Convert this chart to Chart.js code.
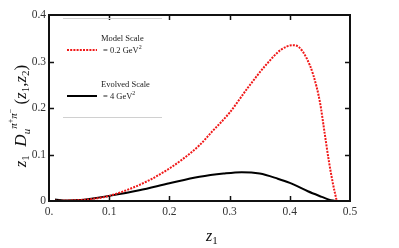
<!DOCTYPE html>
<html>
<head>
<meta charset="utf-8">
<script src="https://cdn.jsdelivr.net/npm/chart.js@4"></script>
<style>
  html, body { margin: 0; padding: 0; background: #fff; }
  #wrap { width: 399px; height: 248px; }
</style>
</head>
<body>
<div id="wrap"><canvas id="fragChart" width="399" height="248"></canvas></div>
<script>
// Values
const modelZ = [0.01, 0.03, 0.05, 0.07, 0.1, 0.14, 0.17, 0.2, 0.22, 0.25, 0.27, 0.3, 0.33, 0.36, 0.385, 0.405, 0.415, 0.428, 0.439, 0.45, 0.458, 0.465, 0.472, 0.478];
const modelD = [0.0005, 0.001, 0.002, 0.004, 0.011, 0.029, 0.047, 0.07, 0.088, 0.12, 0.148, 0.19, 0.243, 0.292, 0.325, 0.335, 0.331, 0.307, 0.271, 0.213, 0.145, 0.085, 0.035, 0];
const evolvedZ = [0.01, 0.03, 0.05, 0.07, 0.1, 0.15, 0.2, 0.25, 0.29, 0.32, 0.35, 0.38, 0.4, 0.43, 0.453, 0.465, 0.475];
const evolvedD = [0.003, 0.001, 0.002, 0.005, 0.011, 0.023, 0.038, 0.052, 0.059, 0.062, 0.059, 0.048, 0.039, 0.021, 0.009, 0.003, 0];
const xTicks = [0, 0.1, 0.2, 0.3, 0.4, 0.5];
const yTicks = [0, 0.1, 0.2, 0.3, 0.4];
const legendLabels = [['Model Scale', '= 0.2 GeV', '2'], ['Evolved Scale', '= 4 GeV', '2']];

const toPoints = (xs, ys) => xs.map((x, i) => ({ x: x, y: ys[i] }));
const serif = '"Liberation Serif", "DejaVu Serif", serif';

// draw text pieces one after another (normal / sub / sup)
function drawPieces(ctx, pieces, x, y) {
    let cx = x;
    pieces.forEach(p => {
        ctx.font = p.font;
        ctx.fillText(p.t, cx, y + (p.dy || 0));
        cx += ctx.measureText(p.t).width;
    });
    return cx;
}
function piecesWidth(ctx, pieces) {
    let w = 0;
    pieces.forEach(p => { ctx.font = p.font; w += ctx.measureText(p.t).width; });
    return w;
}

// frame, inward ticks, legend and axis titles
const decorPlugin = {
    id: 'decor',
    afterDraw(chart) {
        const ctx = chart.ctx;
        const a = chart.chartArea;
        const xs = chart.scales.x, ys = chart.scales.y;
        ctx.save();
        ctx.strokeStyle = '#111';
        ctx.lineWidth = 2;
        ctx.strokeRect(a.left, a.top, a.right - a.left, a.bottom - a.top);
        ctx.lineWidth = 1.5;
        ctx.beginPath();
        xTicks.slice(1, -1).forEach(v => {
            const px = Math.round(xs.getPixelForValue(v)) + 0.5;
            ctx.moveTo(px, a.bottom); ctx.lineTo(px, a.bottom - 5);
            ctx.moveTo(px, a.top); ctx.lineTo(px, a.top + 5);
        });
        yTicks.slice(1, -1).forEach(v => {
            const py = Math.round(ys.getPixelForValue(v)) + 0.5;
            ctx.moveTo(a.left, py); ctx.lineTo(a.left + 5, py);
            ctx.moveTo(a.right, py); ctx.lineTo(a.right - 5, py);
        });
        ctx.stroke();

        // legend box lines
        ctx.strokeStyle = '#d0d0d0';
        ctx.lineWidth = 1;
        ctx.beginPath();
        ctx.moveTo(a.left + 14, a.top + 3.5); ctx.lineTo(a.left + 113, a.top + 3.5);
        ctx.moveTo(a.left + 14, a.top + 102.5); ctx.lineTo(a.left + 113, a.top + 102.5);
        ctx.stroke();

        // legend samples
        const styles = chart.data.datasets;
        [a.top + 35, a.top + 81].forEach((ly, i) => {
            ctx.strokeStyle = styles[i].borderColor;
            ctx.lineWidth = 2;
            ctx.setLineDash(styles[i].borderDash || []);
            ctx.beginPath();
            ctx.moveTo(a.left + 18, ly); ctx.lineTo(a.left + 48, ly);
            ctx.stroke();
            ctx.setLineDash([]);
            ctx.fillStyle = '#222';
            ctx.textBaseline = 'alphabetic';
            ctx.font = '8.5px ' + serif;
            ctx.fillText(legendLabels[i][0], a.left + 52, ly - 9);
            drawPieces(ctx, [
                { t: legendLabels[i][1], font: '8.5px ' + serif },
                { t: legendLabels[i][2], font: '6px ' + serif, dy: -4 }
            ], a.left + 54, ly + 3);
        });

        // x title
        ctx.fillStyle = '#111';
        ctx.textBaseline = 'alphabetic';
        drawPieces(ctx, [
            { t: 'z', font: 'italic 16px ' + serif },
            { t: '1', font: '11px ' + serif, dy: 3 }
        ], 206, 241);

        // y title (rotated)
        const it = 'italic 17px ' + serif, rm = '17px ' + serif, sm = '11px ' + serif, smi = 'italic 11px ' + serif;
        const pieces = [
            { t: 'z', font: it }, { t: '1', font: sm, dy: 3 },
            { t: '  D', font: it }, { t: 'u', font: smi, dy: 4 },
            { t: 'π', font: smi, dy: -9 }, { t: '+', font: '8px ' + serif, dy: -13 },
            { t: 'π', font: smi, dy: -9 }, { t: '−', font: '8px ' + serif, dy: -13 },
            { t: ' (', font: rm }, { t: 'z', font: it }, { t: '1', font: sm, dy: 3 },
            { t: ',', font: rm }, { t: 'z', font: it }, { t: '2', font: sm, dy: 3 },
            { t: ')', font: rm }
        ];
        ctx.translate(26, 116);
        ctx.rotate(-Math.PI / 2);
        drawPieces(ctx, pieces, -piecesWidth(ctx, pieces) / 2, 0);
        ctx.restore();
    }
};

const ctx = document.getElementById('fragChart').getContext('2d');
const fragChart = new Chart(ctx, {
    type: 'line',
    data: {
        datasets: [{
            label: 'Model Scale = 0.2 GeV²',
            data: toPoints(modelZ, modelD),
            borderColor: '#f01818',
            borderWidth: 2,
            borderDash: [2, 1.2],
            pointRadius: 0,
            cubicInterpolationMode: 'monotone',
            fill: false
        }, {
            label: 'Evolved Scale = 4 GeV²',
            data: toPoints(evolvedZ, evolvedD),
            borderColor: '#000',
            borderWidth: 2,
            pointRadius: 0,
            cubicInterpolationMode: 'monotone',
            fill: false
        }]
    },
    options: {
        responsive: false,
        animation: false,
        layout: { padding: { top: 15, right: 49, left: 0, bottom: 0 } },
        plugins: { legend: { display: false }, tooltip: { enabled: false } },
        scales: {
            x: {
                type: 'linear', min: 0, max: 0.5,
                grid: { display: false, drawTicks: false }, border: { display: false },
                afterFit: s => { s.height = 47; },
                afterBuildTicks: s => { s.ticks = xTicks.map(v => ({ value: v })); },
                ticks: {
                    color: '#333', padding: 4,
                    font: { family: serif, size: 11.5 },
                    callback: v => v === 0 ? '0.' : v.toFixed(1)
                }
            },
            y: {
                type: 'linear', min: 0, max: 0.4,
                grid: { display: false, drawTicks: false }, border: { display: false },
                afterFit: s => { s.width = 49; },
                afterBuildTicks: s => { s.ticks = yTicks.map(v => ({ value: v })); },
                ticks: {
                    color: '#333', padding: 3,
                    font: { family: serif, size: 11.5 },
                    callback: v => v === 0 ? '0' : v.toFixed(1)
                }
            }
        }
    },
    plugins: [decorPlugin]
});
</script>
</body>
</html>
